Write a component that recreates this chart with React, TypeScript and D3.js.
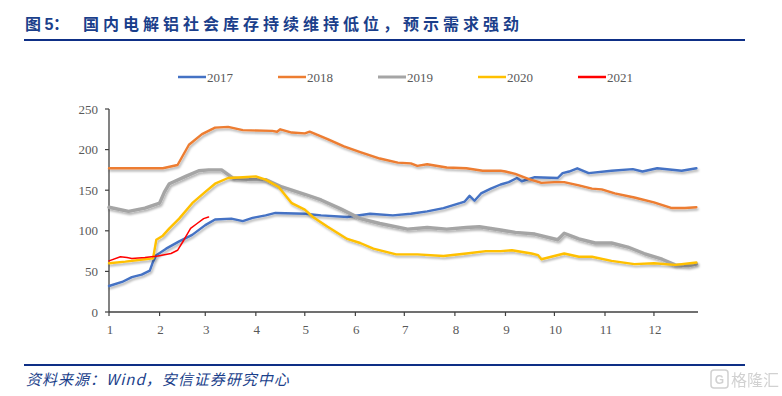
import * as d3 from "d3";

// Social inventory of electrolytic aluminium (10k t), by day-of-year
const monthStarts = [0, 31, 59, 90, 120, 151, 181, 212, 243, 273, 304, 334];
const monthLabels = ["1", "2", "3", "4", "5", "6", "7", "8", "9", "10", "11", "12"];
const yTicks = [0, 50, 100, 150, 200, 250];

const s2017: [number, number][] = [
  [0, 32], [8, 37], [14, 43], [20, 46], [25, 51], [27, 62], [29, 70], [35, 78], [43, 87],
  [51, 95], [59, 107], [65, 114], [75, 115], [82, 112], [88, 116], [96, 119], [102, 122],
  [120, 121], [130, 119], [146, 117], [160, 121], [174, 119], [185, 121], [195, 124],
  [205, 128], [215, 134], [218, 136], [221, 143], [224, 137], [228, 146], [234, 152],
  [240, 157], [245, 160], [250, 165], [253, 161], [261, 166], [275, 165], [278, 171],
  [282, 173], [287, 177], [294, 171], [308, 174], [321, 176], [327, 173], [336, 177],
  [351, 174], [360, 177],
];
const s2018: [number, number][] = [
  [0, 177], [10, 177], [20, 177], [33, 177], [42, 181], [49, 206], [57, 219], [65, 227],
  [73, 228], [82, 224], [100, 223], [103, 222], [105, 225], [112, 221], [120, 220],
  [123, 222], [134, 213], [144, 204], [154, 197], [166, 189], [177, 184], [185, 183],
  [189, 180], [195, 182], [207, 178], [219, 177], [229, 174], [240, 174], [243, 173],
  [249, 170], [257, 164], [265, 159], [273, 160], [279, 160], [288, 156], [296, 152],
  [302, 151], [310, 146], [322, 141], [334, 135], [345, 128], [353, 128], [360, 129],
];
const s2019: [number, number][] = [
  [0, 129], [12, 124], [22, 128], [31, 134], [34, 148], [37, 158], [47, 167], [55, 174],
  [61, 175], [69, 175], [76, 165], [86, 163], [96, 163], [106, 154], [120, 145],
  [130, 138], [142, 127], [154, 115], [166, 109], [183, 102], [195, 104], [207, 102],
  [219, 104], [227, 105], [240, 101], [249, 98], [261, 96], [275, 89], [279, 97],
  [288, 90], [298, 85], [308, 85], [318, 80], [328, 72], [339, 65], [347, 58],
  [355, 57], [360, 59],
];
const s2020: [number, number][] = [
  [0, 60], [10, 62], [22, 65], [27, 66], [29, 89], [33, 94], [37, 103], [43, 115],
  [51, 134], [59, 148], [65, 158], [73, 165], [82, 166], [90, 167], [96, 163],
  [104, 154], [112, 134], [120, 126], [125, 117], [134, 105], [146, 90], [154, 85],
  [162, 78], [176, 71], [189, 71], [205, 69], [219, 72], [231, 75], [240, 75],
  [247, 76], [259, 72], [263, 70], [265, 65], [279, 72], [288, 68], [296, 68],
  [308, 63], [322, 59], [334, 60], [347, 58], [360, 61],
];
const s2021: [number, number][] = [
  [0, 63], [7, 68], [11, 67], [14, 66], [22, 67], [30, 69], [38, 72], [42, 76],
  [46, 89], [50, 103], [54, 109], [58, 115], [61, 117],
];

const series = [
  { name: "2017", data: s2017, color: "#4472C4", width: 2.4, shadow: true },
  { name: "2018", data: s2018, color: "#ED7D31", width: 2.4, shadow: true },
  { name: "2019", data: s2019, color: "#A5A5A5", width: 3.4, shadow: true },
  { name: "2020", data: s2020, color: "#FFC000", width: 2.4, shadow: true },
  { name: "2021", data: s2021, color: "#FF0000", width: 1.5, shadow: false },
];

const W = 782;
const H = 396;
const TITLE_BLUE = "#1B3F8B";
const AXIS = "#404040";
const LABEL = "#595959";
const SERIF = "'Liberation Serif', 'DejaVu Serif', serif";
const CJK = "'Noto Sans CJK SC', sans-serif";

export default function App() {
  const x = d3.scaleLinear().domain([0, 361]).range([109, 698]);
  const y = d3.scaleLinear().domain([0, 250]).range([312, 109]);
  const line = d3.line<[number, number]>()
    .x((d) => x(d[0]))
    .y((d) => y(d[1]));

  return (
    <svg
      width={W}
      height={H}
      style={{ position: "absolute", left: 0, top: 0, background: "#fff" }}
    >
      <defs>
        <filter id="shadow" x="-5%" y="-20%" width="110%" height="140%">
          <feDropShadow dx="1.2" dy="2" stdDeviation="1.3" floodColor="#000" floodOpacity="0.3" />
        </filter>
      </defs>

      {/* title */}
      <text y={30} fill={TITLE_BLUE} fontSize={16} fontWeight="bold" fontFamily={CJK}>
        <tspan x={25}>图</tspan>
        <tspan x={44.5} fontFamily="'Liberation Sans', sans-serif">5</tspan>
        <tspan x={53}>：</tspan>
        <tspan x={83} letterSpacing={4}>国内电解铝社会库存持续维持低位，预示需求强劲</tspan>
      </text>
      <line x1={24} x2={745} y1={40} y2={40} stroke="#0E2F86" strokeWidth={2} />

      {/* legend */}
      {series.map((s, i) => (
        <g key={s.name} transform={`translate(${178 + i * 100},77)`}>
          <line x1={0} x2={28} y1={0} y2={0} stroke={s.color} strokeWidth={s.name === "2019" ? 3 : 2.5} />
          <text x={29} y={4.5} fontSize={13} fill={LABEL} fontFamily={SERIF}>
            {s.name}
          </text>
        </g>
      ))}

      {/* y axis */}
      <line x1={109} x2={109} y1={y(250)} y2={y(0)} stroke={AXIS} strokeWidth={1.3} />
      {yTicks.map((t) => (
        <g key={t}>
          <line x1={105} x2={109} y1={y(t)} y2={y(t)} stroke={AXIS} strokeWidth={1.2} />
          <text x={98} y={y(t) + 4.5} textAnchor="end" fontSize={13} fill={LABEL} fontFamily={SERIF}>
            {t}
          </text>
        </g>
      ))}

      {/* x axis */}
      <line x1={109} x2={698} y1={312} y2={312} stroke={AXIS} strokeWidth={1.3} />
      {monthStarts.map((d, i) => (
        <g key={d}>
          <line x1={x(d)} x2={x(d)} y1={312} y2={316} stroke={AXIS} strokeWidth={1.2} />
          <text x={x(d) + 1} y={334} textAnchor="middle" fontSize={13} fill={LABEL} fontFamily={SERIF}>
            {monthLabels[i]}
          </text>
        </g>
      ))}

      {/* series */}
      {series.map((s) => (
        <path
          key={s.name}
          d={line(s.data) ?? ""}
          fill="none"
          stroke={s.color}
          strokeWidth={s.width}
          strokeLinejoin="round"
          strokeLinecap="round"
          filter={s.shadow ? "url(#shadow)" : undefined}
        />
      ))}

      {/* footer */}
      <line x1={24} x2={745} y1={365} y2={365} stroke="#0E2F86" strokeWidth={2} />
      <text
        x={26}
        y={385}
        fill={TITLE_BLUE}
        fontSize={15}
        fontStyle="italic"
        letterSpacing={1}
        fontFamily={CJK}
      >
        资料来源：Wind，安信证券研究中心
      </text>
      <g opacity={0.45}>
        <rect x={711} y={370} width={17} height={18} rx={3} fill="none" stroke="#9a9a9a" strokeWidth={1.5} />
        <text x={719.5} y={384} textAnchor="middle" fontSize={12} fill="#9a9a9a" fontFamily="'Liberation Sans', sans-serif" fontWeight="bold">
          G
        </text>
        <text x={731} y={386} fontSize={16} fill="#9a9a9a" fontFamily={CJK}>
          格隆汇
        </text>
      </g>
    </svg>
  );
}
